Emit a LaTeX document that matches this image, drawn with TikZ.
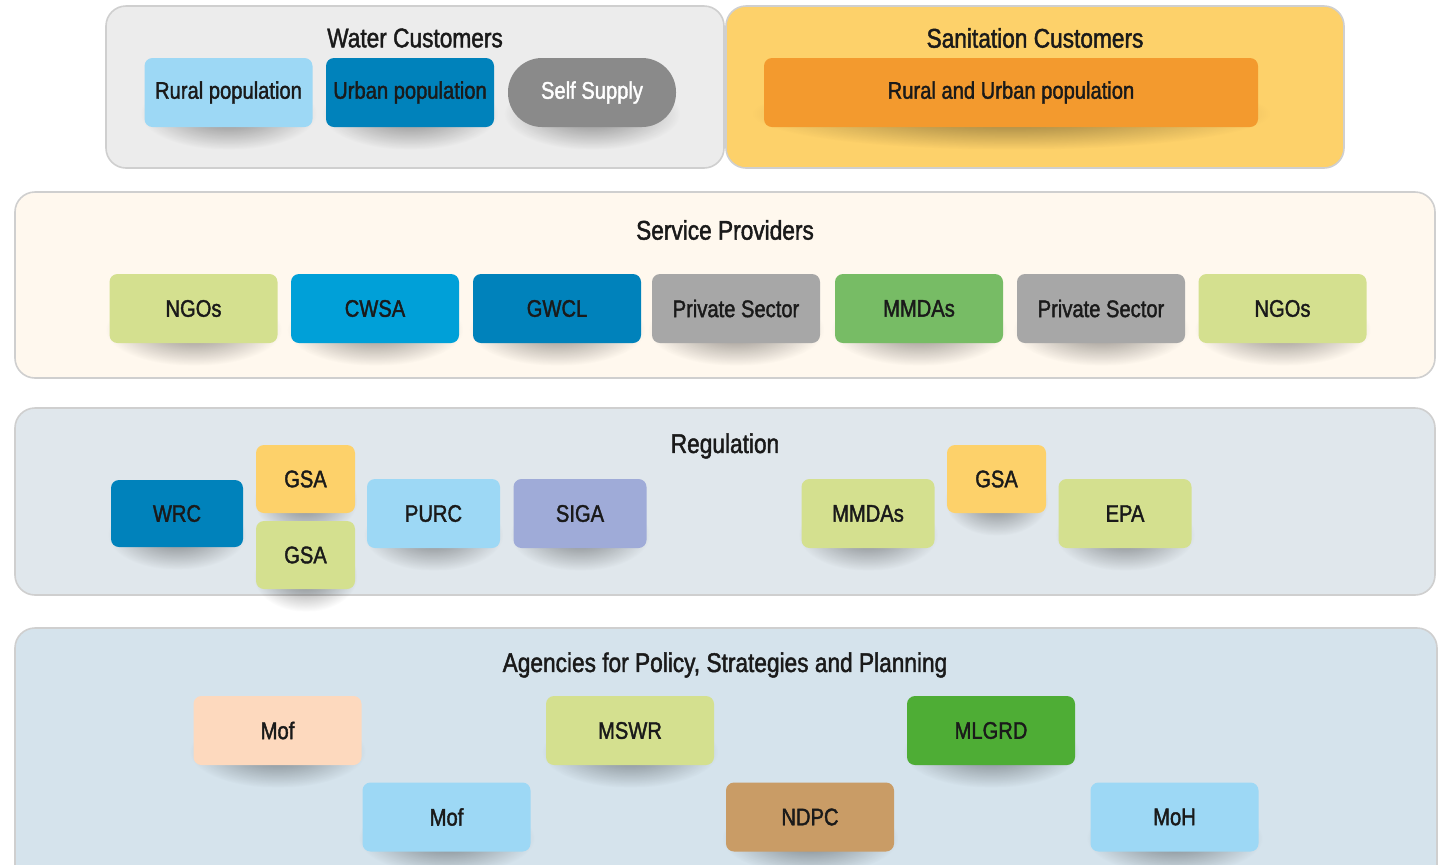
\documentclass[tikz,border=0pt]{standalone}
\usepackage{fontspec}
\setmainfont[FakeStretch=0.84, FakeBold=1.6]{Liberation Sans}
\usetikzlibrary{shadows,fadings}

\definecolor{skyblue}{HTML}{9DD8F5}
\definecolor{seablue}{HTML}{0082BB}
\definecolor{cyanblue}{HTML}{00A0D8}
\definecolor{stone}{HTML}{A7A7A7}
\definecolor{slate}{HTML}{8A8A8A}
\definecolor{lime}{HTML}{D4E08F}
\definecolor{leaf}{HTML}{77BC65}
\definecolor{grass}{HTML}{4EAD35}
\definecolor{sun}{HTML}{FDD16A}
\definecolor{tangerine}{HTML}{F39A2E}
\definecolor{lavender}{HTML}{9FABD8}
\definecolor{peach}{HTML}{FDD9BE}
\definecolor{clay}{HTML}{C99C66}
\definecolor{panelline}{HTML}{CFCFCF}
\definecolor{fog}{HTML}{ECECEC}
\definecolor{cream}{HTML}{FFF8EE}
\definecolor{mist}{HTML}{E0E7EC}
\definecolor{haze}{HTML}{D5E3EC}
\definecolor{ink}{HTML}{1A1A1A}

% soft spot used for the drop shadows
\tikzfading[name=softblob, inner color=transparent!0, outer color=transparent!100]

\begin{document}
\begin{tikzpicture}[x=0.5pt,y=-0.5pt,
  panel/.style={draw=panelline, line width=0.8pt, rounded corners=10pt, inner sep=0pt},
  heading/.style={text=ink, font=\fontsize{13.5}{15}\selectfont},
  tile/.style={rounded corners=4pt, inner sep=0pt, minimum height=34.5pt, text=ink,
    font=\fontsize{12}{14}\selectfont,
    general shadow={fill=black, opacity=0.45, path fading=softblob,
      shadow scale=1.05, shadow xshift=0pt, shadow yshift=-10pt}},
  wide/.style={tile, minimum width=84pt},
  short/.style={tile, minimum width=66.5pt},
  small/.style={tile, minimum width=49.5pt, minimum height=34pt}]
\useasboundingbox (0,0) rectangle (1440,864);
\clip (0,0) rectangle (1440,864);
\fill[white] (0,0) rectangle (1440,864);

% water customers
  \node[panel, fill=fog, minimum width=309pt, minimum height=81pt] (water) at (415,87) {};
  \node[heading] (waterhead) at (415,38) {Water Customers};
  \node[wide, fill=skyblue] (rural) at (228.5,92.5) {Rural population};
  \node[wide, fill=seablue] (urban) at (410,92.5) {Urban population};
  \node[wide, fill=slate, text=white, rounded corners=17pt] (self) at (592,92.5) {Self Supply};

% sanitation customers
  \node[panel, fill=sun, minimum width=309pt, minimum height=81pt] (sanit) at (1035,87) {};
  \node[heading] (sanithead) at (1035,38) {Sanitation Customers};
  \node[tile, fill=tangerine, minimum width=247pt] (both) at (1011,92.5) {Rural and Urban population};

% service providers
  \node[panel, fill=cream, minimum width=710pt, minimum height=93pt] (service) at (725,285) {};
  \node[heading] (servicehead) at (725,230) {Service Providers};
  \node[wide, fill=lime] (ngoa) at (193.5,308.5) {NGOs};
  \node[wide, fill=cyanblue] (cwsa) at (375,308.5) {CWSA};
  \node[wide, fill=seablue] (gwcl) at (557,308.5) {GWCL};
  \node[wide, fill=stone] (priva) at (736,308.5) {Private Sector};
  \node[wide, fill=leaf] (mmdaa) at (919,308.5) {MMDAs};
  \node[wide, fill=stone] (privb) at (1101,308.5) {Private Sector};
  \node[wide, fill=lime] (ngob) at (1282.5,308.5) {NGOs};

% regulation
  \node[panel, fill=mist, minimum width=710pt, minimum height=93.5pt] (regul) at (725,501.5) {};
  \node[heading] (regulhead) at (725,446) {Regulation};
  \node[short, fill=seablue, minimum width=66pt, minimum height=33.5pt] (wrc) at (177,513.5) {WRC};
  \node[small, fill=sun] (gsaa) at (305.5,479) {GSA};
  \node[small, fill=lime] (gsab) at (305.5,555) {GSA};
  \node[short, fill=skyblue] (purc) at (433.5,513.5) {PURC};
  \node[short, fill=lavender] (siga) at (580,513.5) {SIGA};
  \node[short, fill=lime] (mmdab) at (868,513.5) {MMDAs};
  \node[small, fill=sun] (gsac) at (996.5,479) {GSA};
  \node[short, fill=lime] (epa) at (1125,513.5) {EPA};

% agencies for policy, strategies and planning
  \node[panel, fill=haze, minimum width=711pt, minimum height=136pt] (agency) at (726,764) {};
  \node[heading] (agencyhead) at (725,665) {Agencies for Policy, Strategies and Planning};
  \node[wide, fill=peach] (mofa) at (277.5,730.5) {Mof};
  \node[wide, fill=lime] (mswr) at (630,730.5) {MSWR};
  \node[wide, fill=grass] (mlgrd) at (991,730.5) {MLGRD};
  \node[wide, fill=skyblue] (mofb) at (446.5,817) {Mof};
  \node[wide, fill=clay] (ndpc) at (810,817) {NDPC};
  \node[wide, fill=skyblue] (moh) at (1174.5,817) {MoH};
\end{tikzpicture}
\end{document}
